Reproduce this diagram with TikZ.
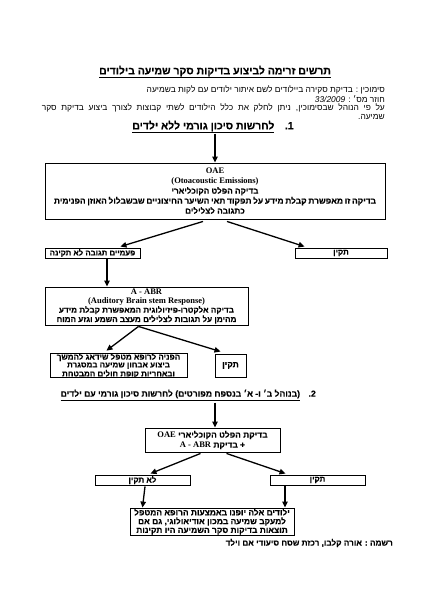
\documentclass[tikz,border=0pt]{standalone}
\usepackage{fontspec}
\setmainfont{Liberation Sans}
\newfontfamily\hebf[Script=Hebrew,BoldFeatures={FakeBold=0.4}]{Liberation Sans}
\newfontfamily\serf{Liberation Serif}
\TeXXeTstate=1
\usetikzlibrary{arrows.meta,calc}
\newcommand\heb[1]{\beginR #1\endR}
\newcommand\fs[2]{\fontsize{#1}{#2}\selectfont}
\begin{document}
\begin{tikzpicture}[x=1pt,y=-1pt,
  box/.style={draw,line width=0.9pt,align=center,inner sep=0pt},
  arr/.style={line width=1.3pt,-{Triangle[length=6pt,width=5.5pt]}},
  txt/.style={inner sep=0pt,font=\hebf\fs{8.4}{9}}]
\useasboundingbox[fill=white] (0,0) rectangle (424,600);
% title and intro
\node[inner sep=0pt,font=\hebf\bfseries\fs{10.5}{12}] (title) at (215,72) {\underline{\heb{תרשים זרימה לביצוע בדיקות סקר שמיעה בילודים}}};
\node[txt,anchor=east] (i1) at (385,90) {\heb{סימוכין : בדיקת סקירה ביילודים לשם איתור ילודים עם לקות בשמיעה}};
\node[txt,anchor=east] (i2) at (385,99) {\heb{חוזר מס׳ : \beginL\itshape 33/2009\endL}};
\node[txt,anchor=east] (i3) at (385,108) {\hbox to 343pt{\heb{על פי הנוהל שבסימוכין, ניתן לחלק את כלל הילודים לשתי קבוצות לצורך ביצוע בדיקת סקר}}};
\node[txt,anchor=east] (i4) at (385,117) {\heb{שמיעה.}};
\node[inner sep=0pt,font=\hebf\bfseries\fs{10.5}{12}] (h1) at (213,127) {\heb{\beginL 1.\endL\quad\underline{ילדים ללא גורמי סיכון לחרשות}}};
% boxes
\node[box,minimum width=340pt,minimum height=56pt,font=\hebf\bfseries\fs{8.2}{10}] (oae) at (215,191)
 {{\serf\bfseries\fs{8.5}{10}OAE}\\{\serf\bfseries\fs{8.5}{10}(Otoacoustic Emissions)}\\
  \heb{בדיקה הפלט הקוכליארי}\\
  {\fs{8.4}{10}\hbox to 322pt{\heb{בדיקה זו מאפשרת קבלת מידע על תפקוד תאי השיער החיצוניים שבשבלול האוזן הפנימית}}}\\
  \heb{כתגובה לצלילים}};
\node[box,minimum width=95pt,minimum height=10pt,font=\hebf\bfseries\fs{7.8}{9}] (bad) at (92.5,253) {\heb{פעמיים תגובה לא תקינה}};
\node[box,minimum width=92pt,minimum height=10pt,font=\hebf\bfseries\fs{8}{9}] (ok1) at (341,253) {\heb{תקין}};
\node[box,minimum width=203pt,minimum height=38pt,font=\hebf\bfseries\fs{8.1}{9.3}] (abr) at (146.5,306)
 {{\serf\bfseries\fs{8.5}{9.3}A - ABR}\\{\serf\bfseries\fs{8.5}{9.3}(Auditory Brain stem Response)}\\
  \heb{בדיקה אלקטרו-פיזיולוגית המאפשרת קבלת מידע}\\
  \heb{מהימן על תגובות לצלילים מעצב השמע וגזע המוח}};
\node[box,minimum width=137pt,minimum height=23pt,font=\hebf\bfseries\fs{8}{7.8}] (ref) at (118.5,365.5)
 {\heb{הפניה לרופא מטפל שידאג להמשך}\\\heb{ביצוע אבחון שמיעה במסגרת}\\\heb{ובאחריות קופת חולים המבטחת}};
\node[box,minimum width=31pt,minimum height=23pt,font=\hebf\bfseries\fs{8.5}{9}] (ok2) at (230.5,365.5) {\heb{תקין}};
\node[inner sep=0pt,font=\hebf\bfseries\fs{8.6}{10},anchor=east] (h2) at (316,395) {\heb{\beginL 2.\endL\quad\underline{ילדים עם גורמי סיכון לחרשות \hbox{)}מפורטים בנספח א׳ ו- ב׳ בנוהל\hbox{(}}}};
\node[box,minimum width=135pt,minimum height=24pt,font=\hebf\bfseries\fs{8.4}{10}] (b3) at (212.5,440)
 {\heb{בדיקת הפלט הקוכליארי \beginL{\serf\bfseries\fs{8.5}{10}OAE}\endL}\\
  \heb{+ בדיקת \beginL{\serf\bfseries\fs{8.5}{10}A - ABR}\endL}};
\node[box,minimum width=95pt,minimum height=10pt,font=\hebf\bfseries\fs{8}{9}] (nok) at (142.5,480) {\heb{לא תקין}};
\node[box,minimum width=95pt,minimum height=10pt,font=\hebf\bfseries\fs{8}{9}] (ok3) at (317.5,480) {\heb{תקין}};
\node[box,minimum width=164pt,minimum height=27pt,font=\hebf\bfseries\fs{8.4}{8.8}] (fin) at (212,521.5)
 {\heb{ילודים אלה יופנו באמצעות הרופא המטפל}\\\heb{למעקב שמיעה במכון אודיאולוגי, גם אם}\\\heb{תוצאות בדיקות סקר השמיעה היו תקינות}};
\node[txt,anchor=east,font=\hebf\bfseries\fs{8.2}{9}] (foot) at (393,543) {\heb{רשמה : אורה קלבו, רכזת שסח סיעודי אם וילד}};
% arrows
\draw[arr] ($(oae.north)+(0,-29)$) -- (oae.north);
\draw[arr] ($(oae.south)+(-12,2)$) -- ($(bad.north east)+(-20,-1)$);
\draw[arr] ($(oae.south)+(12,2)$) -- ($(ok1.north west)+(10,-1)$);
\draw[arr] ($(bad.south)+(14.5,1)$) -- (abr.north -| 107,0);
\draw[arr] ($(abr.south)+(-8,1)$) -- ($(ref.north)+(-12,-2)$);
\draw[arr] ($(abr.south)+(-8,1)$) -- ($(ok2.north)+(-10,-2)$);
\draw[arr] ($(b3.north)+(2.5,-25)$) -- ($(b3.north)+(2.5,0)$);
\draw[arr] ($(b3.south)+(-12,1)$) -- ($(nok.north)+(8,-1)$);
\draw[arr] ($(b3.south)+(14,1)$) -- ($(ok3.north)+(-32,-1)$);
\draw[arr] ($(nok.south)+(2.5,1)$) -- (fin.north -| nok.south);
\draw[arr] ($(ok3.south)+(-32.5,1)$) -- (fin.north -| 285,0);
\end{tikzpicture}
\end{document}
